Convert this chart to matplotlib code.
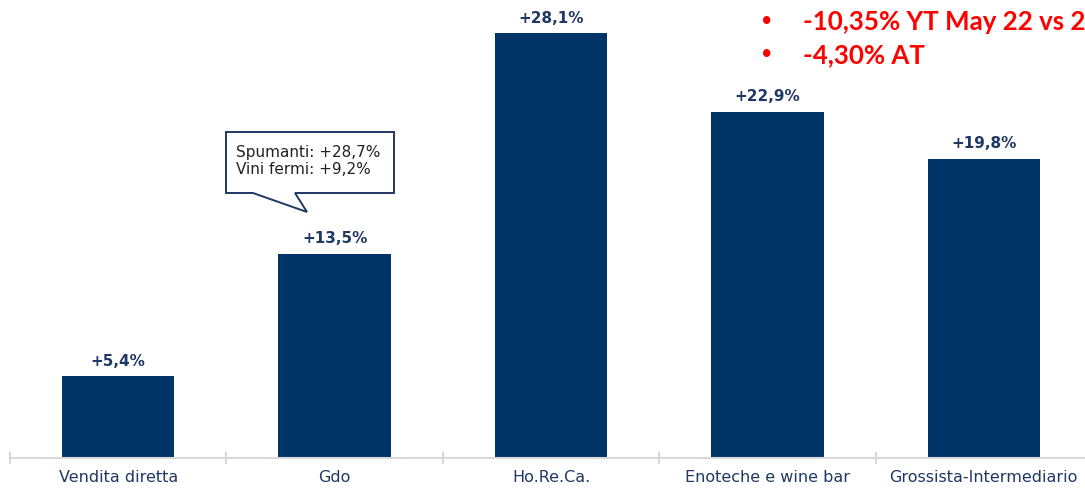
import matplotlib.pyplot as plt
from matplotlib.patches import Polygon

# data
categories = ["Vendita diretta", "Gdo", "Ho.Re.Ca.", "Enoteche e wine bar", "Grossista-Intermediario"]
values = [5.4, 13.5, 28.1, 22.9, 19.8]
labels = ["+5,4%", "+13,5%", "+28,1%", "+22,9%", "+19,8%"]
callout_lines = ["Spumanti: +28,7%", "Vini fermi: +9,2%"]
red_lines = ["-10,35% YT May 22 vs 2", "-4,30% AT"]

navy = "#003366"
W, H = 1085, 488

fig = plt.figure(figsize=(W / 100, H / 100), dpi=100)
# axes spans from x=10px to 1092px, baseline at y=458px
ax = fig.add_axes([10 / W, 30 / H, 1082 / W, 458 / H])
ax.bar(range(len(values)), values, width=0.52, color=navy, zorder=2)
ax.set_xlim(-0.5, len(values) - 0.5)
ax.set_ylim(0, 458 / 15.12)

for i, (v, t) in enumerate(zip(values, labels)):
    ax.text(i, v + 0.5, t, ha="center", va="bottom", fontsize=11,
            fontweight="bold", color="#1f3864")

ax.set_xticks([i - 0.5 for i in range(len(values) + 1)])
ax.set_xticklabels([])
ax.set_xticks(range(len(values)), minor=True)
ax.set_xticklabels(categories, minor=True, fontsize=11.5, color="#1f3864")
ax.tick_params(axis="x", which="major", length=8, direction="inout", color="#d0d0d0", width=1.2)
ax.tick_params(axis="x", which="minor", length=0, pad=9)
ax.set_yticks([])
for s in ["top", "right", "left"]:
    ax.spines[s].set_visible(False)
ax.spines["bottom"].set_color("#d9d9d9")
ax.spines["bottom"].set_linewidth(1.5)


# callout near the Gdo bar (pixel -> data helper)
def px(x, y):
    return ((x - 10) / 216.4 - 0.5, (458 - y) / 15.12)


pts = [px(226, 132), px(394, 132), px(394, 193), px(295, 193), px(307, 212),
       px(253, 193), px(226, 193)]
ax.add_patch(Polygon(pts, closed=True, facecolor="white", edgecolor="#1f3864",
                     linewidth=1.4, zorder=3))
tx, ty = px(236, 161)
ax.text(tx, ty, "\n".join(callout_lines), ha="left", va="center", fontsize=11,
        color="#222222", linespacing=1.15, zorder=4)

# red notes top right
for k, line in enumerate(red_lines):
    y = 1 - (22 + 33 * k) / H
    fig.text(767 / W, y, "\u2022", ha="center", va="center", fontsize=15,
             color="#ff0000", fontweight="bold")
    fig.text(803 / W, y, line, ha="left", va="center", fontsize=18.6,
             color="#ff0000", fontweight="bold", family="Lato")

fig.savefig("out.png", dpi=100)
